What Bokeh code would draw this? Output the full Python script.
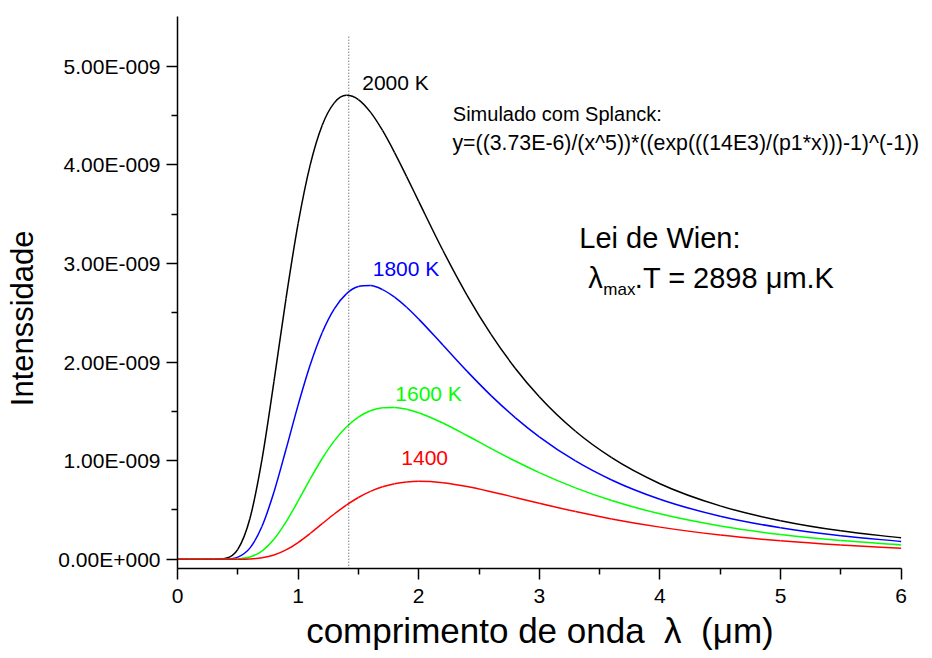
from bokeh.plotting import figure
from bokeh.models import Label, Arrow, FixedTicker, Range1d
from bokeh.embed import file_html
from bokeh.resources import INLINE

# wavelength (um)
wavelength = [0.0, 0.1, 0.2, 0.3, 0.4, 0.5, 0.6, 0.7, 0.8, 0.9, 1.0, 1.1, 1.2, 1.3, 1.4,
              1.5, 1.6, 1.7, 1.8, 1.9, 2.0, 2.2, 2.4, 2.6, 2.8, 3.0, 3.3, 3.6, 4.0, 4.5,
              5.0, 5.5, 6.0]
# intensities in units of 1E-009
t2000 = [0, 0, 0, 0.0001, 0.0092, 0.0993, 0.411, 1.008, 1.804, 2.647, 3.404, 3.998, 4.402,
         4.629, 4.705, 4.663, 4.535, 4.349, 4.125, 3.881, 3.630, 3.134, 2.680, 2.281, 1.938,
         1.648, 1.298, 1.030, 0.766, 0.541, 0.391, 0.288, 0.217]
t1800 = [0, 0, 0, 0, 0.0013, 0.0209, 0.1125, 0.3317, 0.6823, 1.1153, 1.5632, 1.9694, 2.2993,
         2.5395, 2.6913, 2.7656, 2.7756, 2.7350, 2.6581, 2.5552, 2.4357, 2.1729, 1.9080,
         1.6597, 1.4369, 1.2415, 0.9971, 0.8037, 0.6081, 0.4364, 0.3193, 0.2381, 0.1806]
t1600 = [0, 0, 0, 0, 0.0001, 0.0030, 0.0223, 0.0827, 0.2024, 0.3786, 0.5912, 0.8134, 1.0218,
         1.2005, 1.3414, 1.4426, 1.5062, 1.5369, 1.5403, 1.5216, 1.4860, 1.3819, 1.2554,
         1.1234, 0.9960, 0.8782, 0.7234, 0.5951, 0.4603, 0.3375, 0.2510, 0.1897, 0.1454]
t1400 = [0, 0, 0, 0, 0, 0.0003, 0.0028, 0.0139, 0.0424, 0.0944, 0.1694, 0.2610, 0.3604,
         0.4586, 0.5486, 0.6259, 0.6880, 0.7345, 0.7661, 0.7842, 0.7907, 0.7765, 0.7377,
         0.6852, 0.6270, 0.5678, 0.4837, 0.4090, 0.3257, 0.2457, 0.1868, 0.1436, 0.1117]

series_names = ["2000 K", "1800 K", "1600 K", "1400"]
series_colors = ["#000000", "#0000FF", "#00FF00", "#FF0000"]

x_ticks = [0, 1, 2, 3, 4, 5, 6]
x_tick_labels = ["0", "1", "2", "3", "4", "5", "6"]
y_ticks = [0, 1, 2, 3, 4, 5]
y_tick_labels = ["0.00E+000", "1.00E-009", "2.00E-009", "3.00E-009", "4.00E-009", "5.00E-009"]

wien_x = 1.42  # dotted line at the 2000 K maximum

FONT = "Liberation Sans"
Y_AXIS_BOTTOM = -0.094
Y_TOP = 5.505
X_MAX = 6.0
X_FRAME_END = 6.252  # extra room on the right for the formula text


def bezier_segments(xs, ys):
    """Monotone cubic (Hermite) pieces through the data points, as Bezier segments."""
    n = len(xs)
    h = [xs[i + 1] - xs[i] for i in range(n - 1)]
    s = [(ys[i + 1] - ys[i]) / h[i] for i in range(n - 1)]
    d = [0.0] * n
    d[0], d[-1] = s[0], s[-1]
    for i in range(1, n - 1):
        if s[i - 1] * s[i] <= 0:
            d[i] = 0.0
        else:
            di = (h[i] * s[i - 1] + h[i - 1] * s[i]) / (h[i - 1] + h[i])
            lim = 3 * min(abs(s[i - 1]), abs(s[i]))
            d[i] = max(-lim, min(lim, di))
    return dict(
        x0=xs[:-1], y0=ys[:-1], x1=xs[1:], y1=ys[1:],
        cx0=[xs[i] + h[i] / 3 for i in range(n - 1)],
        cy0=[ys[i] + d[i] * h[i] / 3 for i in range(n - 1)],
        cx1=[xs[i + 1] - h[i] / 3 for i in range(n - 1)],
        cy1=[ys[i + 1] - d[i + 1] * h[i] / 3 for i in range(n - 1)],
    )


p = figure(frame_width=754, frame_height=552,
           x_range=Range1d(0, X_FRAME_END), y_range=Range1d(Y_AXIS_BOTTOM, Y_TOP),
           output_backend="svg", toolbar_location=None,
           min_border_left=177, min_border_top=16, min_border_right=0, min_border_bottom=8)
p.outline_line_color = None
p.grid.visible = False
p.background_fill_color = "white"
p.border_fill_color = "white"

for ys, c in zip([t2000, t1800, t1600, t1400], series_colors):
    p.bezier(**bezier_segments(wavelength, ys), line_color=c, line_width=1.5)

p.add_layout(Arrow(end=None, x_start=wien_x, y_start=5.30, x_end=wien_x, y_end=Y_AXIS_BOTTOM,
                   line_color="#444444", line_width=1, line_dash="1 2"))

xa = p.xaxis[0]
ya = p.yaxis[0]
xa.bounds = (0, X_MAX)
xa.ticker = FixedTicker(ticks=x_ticks, minor_ticks=[t + 0.5 for t in x_ticks[:-1]])
xa.major_label_overrides = dict(zip(x_ticks, x_tick_labels))
ya.ticker = FixedTicker(ticks=y_ticks, minor_ticks=[t + 0.5 for t in y_ticks[:-1]])
ya.major_label_overrides = dict(zip(y_ticks, y_tick_labels))

for ax in (xa, ya):
    ax.axis_line_width = 1.5
    ax.axis_line_color = "black"
    ax.major_tick_line_width = 1.5
    ax.minor_tick_line_width = 1.5
    ax.major_tick_line_color = "black"
    ax.minor_tick_line_color = "black"
    ax.major_tick_in = 0
    ax.major_tick_out = 11
    ax.minor_tick_in = 0
    ax.minor_tick_out = 6
    ax.major_label_text_font = FONT
    ax.major_label_text_font_size = "21px"
    ax.major_label_text_color = "black"
    ax.axis_label_text_font = FONT
    ax.axis_label_text_font_style = "normal"
    ax.axis_label_text_color = "black"

xa.axis_label = "comprimento de onda\u00a0\u00a0λ\u00a0\u00a0(μm)" + "\u00a0" * 3
xa.axis_label_text_font_size = "35px"
xa.major_label_standoff = 9
xa.axis_label_standoff = 5
ya.axis_label = "Intenssidade" + "\u00a0" * 6
ya.axis_label_text_font_size = "31px"
ya.major_label_standoff = 6
ya.axis_label_standoff = 15


def add_text(x, y, text, size, color="black"):
    p.add_layout(Label(x=x, y=y, text=text, text_font=FONT, text_font_size=size,
                       text_color=color, text_baseline="alphabetic", text_align="left"))


label_pos = [(1.532, 4.832), (1.619, 2.945), (1.806, 1.676), (1.856, 1.027)]
for (lx, ly), name, c in zip(label_pos, series_names, series_colors):
    add_text(lx, ly, name, "21px", c)

add_text(2.283, 4.515, "Simulado com Splanck:", "20px")
add_text(2.280, 4.220, "y=((3.73E-6)/(x^5))*((exp(((14E3)/(p1*x)))-1)^(-1))", "21.3px")
add_text(3.332, 3.259, "Lei de Wien:", "29px")
add_text(3.406, 2.853, "λ", "29px")
add_text(3.531, 2.739, "max", "17px")
add_text(3.792, 2.853, ".T = 2898 μm.K", "29px")

open("out.html", "w").write(file_html(p, INLINE))
